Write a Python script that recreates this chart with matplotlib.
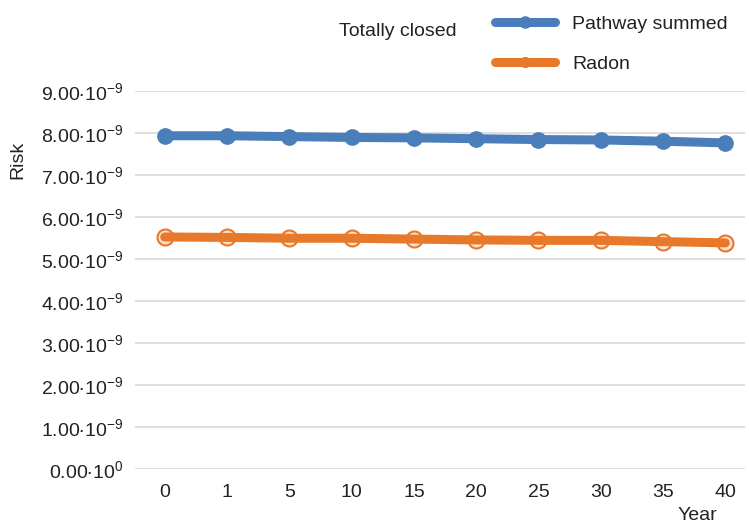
import numpy as np
import matplotlib.pyplot as plt

plt.rcParams['font.family'] = ['Liberation Sans', 'DejaVu Sans']
plt.rcParams['mathtext.fontset'] = 'custom'
plt.rcParams['mathtext.rm'] = 'Liberation Sans'
plt.rcParams['mathtext.it'] = 'Liberation Sans'

# data
years = ['0', '1', '5', '10', '15', '20', '25', '30', '35', '40']
pathway = [7.93, 7.93, 7.91, 7.89, 7.88, 7.86, 7.84, 7.83, 7.80, 7.76]   # x 1e-9
radon = [5.52, 5.51, 5.49, 5.49, 5.47, 5.45, 5.44, 5.44, 5.41, 5.38]     # x 1e-9
yticks = [0, 1, 2, 3, 4, 5, 6, 7, 8, 9]

blue = '#4a7ebb'
orange = '#e8782a'
fs = 14

fig = plt.figure(figsize=(7.49, 5.25), dpi=100)
ax = fig.add_axes([0.18, 0.107, 0.815, 0.72])

x = np.arange(len(years))
py = np.array(pathway) * 1e-9
ry = np.array(radon) * 1e-9

# pathway summed: thick line with filled dots
ax.plot(x, py, color=blue, lw=6.5, marker='o', ms=11, solid_capstyle='round',
        zorder=3)
ax.plot([], [], color=blue, lw=6.5, marker='o', ms=8, solid_capstyle='round',
        label='Pathway summed')

# radon: hollow circles under a thick line
ax.plot(x, ry, ls='none', marker='o', ms=11.5, mfc='#fbe3d2', mec=orange,
        mew=1.5, zorder=2)
ax.plot(x, ry, color=orange, lw=6.5, solid_capstyle='round', zorder=3)
ax.plot([], [], color=orange, lw=6.5, marker='o', ms=7, solid_capstyle='round',
        label='Radon')

ax.set_xlim(-0.48, 9.32)
ax.set_ylim(0, 9e-9)
ax.set_xticks(x)
ax.set_xticklabels(years)
ax.set_yticks([v * 1e-9 for v in yticks])
ylabels = [r'$0.00{\bullet}10^{0}$'] + [r'$%d.00{\bullet}10^{-9}$' % v for v in yticks[1:]]
ax.set_yticklabels(ylabels)
ax.tick_params(axis='both', length=0, labelsize=fs, colors='#222222')
ax.tick_params(axis='y', pad=8)
ax.tick_params(axis='x', pad=11)
ax.grid(axis='y', color='#d9d9d9', lw=1.2)
ax.set_axisbelow(True)
for s in ax.spines.values():
    s.set_visible(False)

fig.text(18 / 749, 1 - 160 / 525, 'Risk', rotation=90, ha='center', va='center',
         fontsize=fs, color='#222222')
fig.text(697 / 749, 1 - 516 / 525, 'Year', ha='center', va='center',
         fontsize=fs, color='#222222')
fig.text(398 / 749, 1 - 32 / 525, 'Totally closed', ha='center', va='center',
         fontsize=fs, color='#222222')

fig.legend(loc='upper left', bbox_to_anchor=(477 / 749, 1 + 2 / 525),
           frameon=False, fontsize=fs, handlelength=3.1, labelspacing=1.15,
           handletextpad=0.9, labelcolor='#222222')

fig.savefig('out.png', dpi=100)
